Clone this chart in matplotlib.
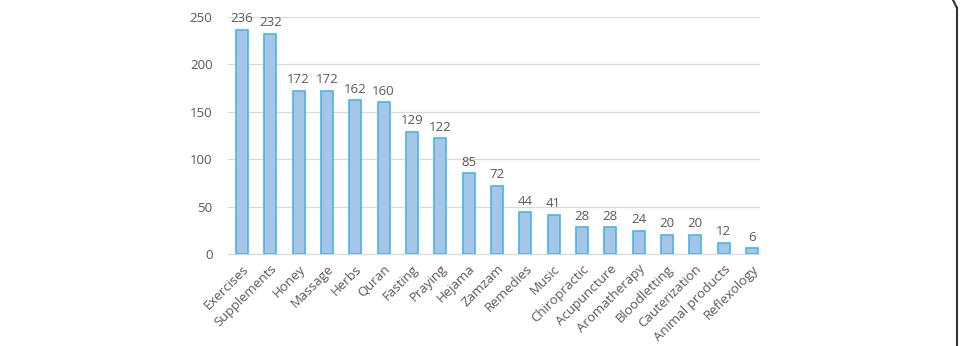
import matplotlib
matplotlib.use("Agg")
import matplotlib.pyplot as plt
from matplotlib.lines import Line2D

categories = [
    "Exercises", "Supplements", "Honey", "Massage", "Herbs", "Quran",
    "Fasting", "Praying", "Hejama", "Zamzam", "Remedies", "Music",
    "Chiropractic", "Acupuncture", "Aromatherapy", "Bloodletting",
    "Cauterization", "Animal products", "Reflexology",
]
counts = [236, 232, 172, 172, 162, 160, 129, 122, 85, 72, 44, 41, 28, 28, 24, 20, 20, 12, 6]
y_ticks = [0, 50, 100, 150, 200, 250]

plt.rcParams["font.family"] = ["Open Sans", "DejaVu Sans"]
TEXT = "#595959"

fig = plt.figure(figsize=(9.65, 3.46), dpi=100)
ax = fig.add_axes([0.236, 0.266, 0.552, 0.685])

x = list(range(len(categories)))
ax.bar(x, counts, width=0.42, color="#a6c6e8", edgecolor="#45b6e6", linewidth=1.2, zorder=3)
for xi, v in zip(x, counts):
    ax.text(xi, v + 5, str(v), ha="center", va="bottom", fontsize=9.5, color=TEXT, clip_on=False)

ax.set_xlim(-0.5, len(categories) - 0.7)
ax.set_ylim(0, 250)
ax.set_yticks(y_ticks)
ax.set_xticks(x)
ax.set_xticklabels(categories, rotation=45, ha="right", rotation_mode="anchor")
ax.tick_params(axis="both", length=0, labelsize=9.5, labelcolor=TEXT)
ax.tick_params(axis="y", pad=11)
ax.tick_params(axis="x", pad=6)
ax.grid(axis="y", color="#d9d9d9", linewidth=0.9, zorder=0)
for side in ["top", "right", "left"]:
    ax.spines[side].set_visible(False)
ax.spines["bottom"].set_color("#d9d9d9")

# frame edge on the right of the picture
fig.add_artist(Line2D([957 / 965, 957 / 965], [0, 1 - 8 / 346], color="#333333", linewidth=1.5))
fig.add_artist(Line2D([953 / 965, 957 / 965], [1.0, 1 - 8 / 346], color="#333333", linewidth=1.5))

fig.savefig("out.png", dpi=100)
